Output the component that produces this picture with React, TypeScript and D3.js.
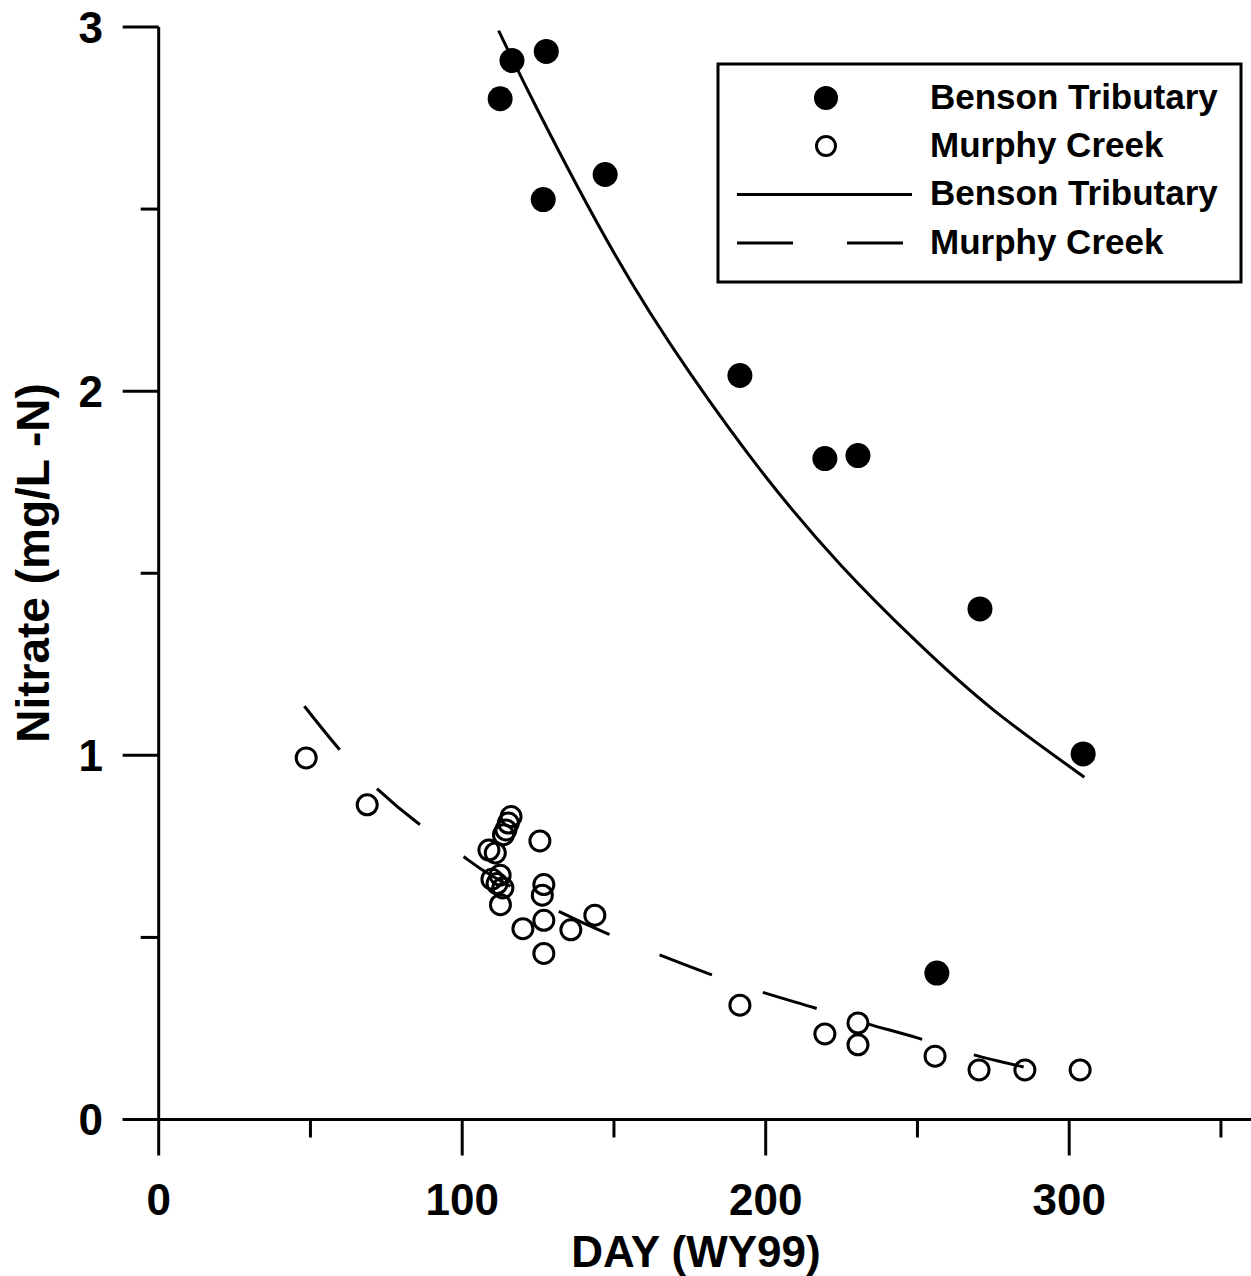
import React from "react";
import * as d3 from "d3";

// ---- data ----
const bensonDay = [112.5, 116.4, 127.7, 126.7, 147.1, 191.5, 219.5, 230.4, 270.6, 304.6, 256.4];
const bensonNitrate = [2.803, 2.908, 2.933, 2.526, 2.595, 2.043, 1.815, 1.823, 1.402, 1.004, 0.402];

const murphyDay = [48.6, 68.7, 116.1, 115.2, 114.4, 113.6, 108.8, 110.9, 112.5, 109.8, 111.5, 113.4, 112.6, 125.6, 126.9, 126.4, 126.9, 120.0, 135.8, 126.9, 143.7, 191.5, 219.5, 230.4, 230.4, 255.8, 270.3, 285.4, 303.6];
const murphyNitrate = [0.993, 0.864, 0.832, 0.814, 0.795, 0.782, 0.740, 0.732, 0.671, 0.660, 0.648, 0.636, 0.590, 0.765, 0.645, 0.616, 0.547, 0.524, 0.521, 0.456, 0.561, 0.314, 0.235, 0.265, 0.205, 0.174, 0.136, 0.136, 0.136];

const bensonFitDay = [112, 125, 150, 175, 200, 225, 250, 275, 305];
const bensonFitNitrate = [2.99, 2.77, 2.38, 2.05, 1.765, 1.52, 1.31, 1.125, 0.94];

const murphyFitDay = [48, 60, 72, 86, 100, 110, 131, 148, 165, 182, 198, 216, 233, 250, 267, 285];
const murphyFitNitrate = [1.135, 1.012, 0.908, 0.81, 0.725, 0.668, 0.575, 0.51, 0.452, 0.398, 0.352, 0.307, 0.264, 0.224, 0.181, 0.144];

const xMajorTicks = [0, 100, 200, 300];
const xMinorTicks = [50, 150, 250, 350];
const yMajorTicks = [0, 1, 2, 3];
const yMinorTicks = [0.5, 1.5, 2.5];

const legendLabels = ["Benson Tributary", "Murphy Creek", "Benson Tributary", "Murphy Creek"];

const W = 1251;
const H = 1276;
const FONT = "'Liberation Sans', Arial, Helvetica, sans-serif";

export default function App() {
  const x = d3.scaleLinear().domain([0, 360]).range([158.7, 1251.3]);
  const y = d3.scaleLinear().domain([0, 3]).range([1119.5, 27]);

  const line = d3
    .line<[number, number]>()
    .x((d) => x(d[0]))
    .y((d) => y(d[1]))
    .curve(d3.curveNatural);

  const bensonFit = bensonFitDay.map((d, i) => [d, bensonFitNitrate[i]] as [number, number]);
  const murphyFit = murphyFitDay.map((d, i) => [d, murphyFitNitrate[i]] as [number, number]);

  const sw = 3;
  const majorLen = 36;
  const minorLen = 18;
  const x0 = x(0);
  const y0 = y(0);

  const legX = 718, legY = 64, legW = 523, legH = 218;
  const rowY = [98, 146, 194.5, 243];

  return (
    <svg
      width={W}
      height={H}
      viewBox={`0 0 ${W} ${H}`}
      style={{ position: "absolute", left: 0, top: 0, background: "#fff" }}
      fontFamily={FONT}
    >
      <rect x={0} y={0} width={W} height={H} fill="#fff" />
      {/* axes */}
      <line x1={x0} x2={x0} y1={y(3)} y2={y0} stroke="#000" strokeWidth={sw} />
      <line x1={x0 - majorLen} x2={W} y1={y0} y2={y0} stroke="#000" strokeWidth={sw} />
      {yMajorTicks.map((t) => (
        <g key={"ym" + t}>
          <line x1={x0 - majorLen} x2={x0} y1={y(t)} y2={y(t)} stroke="#000" strokeWidth={sw} />
          <text x={103} y={y(t)} dy="0.36em" textAnchor="end" fontSize={44} fontWeight="bold">
            {t}
          </text>
        </g>
      ))}
      {yMinorTicks.map((t) => (
        <line key={"yn" + t} x1={x0 - minorLen} x2={x0} y1={y(t)} y2={y(t)} stroke="#000" strokeWidth={sw} />
      ))}
      {xMajorTicks.map((t) => (
        <g key={"xm" + t}>
          <line x1={x(t)} x2={x(t)} y1={y0} y2={y0 + majorLen} stroke="#000" strokeWidth={sw} />
          <text x={x(t)} y={1215} textAnchor="middle" fontSize={44} fontWeight="bold">
            {t}
          </text>
        </g>
      ))}
      {xMinorTicks.map((t) => (
        <line key={"xn" + t} x1={x(t)} x2={x(t)} y1={y0} y2={y0 + minorLen} stroke="#000" strokeWidth={sw} />
      ))}
      <text x={696} y={1267} textAnchor="middle" fontSize={44} fontWeight="bold">
        DAY (WY99)
      </text>
      <text
        transform={`translate(49, 563) rotate(-90)`}
        textAnchor="middle"
        fontSize={46}
        fontWeight="bold"
      >
        Nitrate (mg/L -N)
      </text>

      {/* fitted curves */}
      <path d={line(bensonFit) || ""} fill="none" stroke="#000" strokeWidth={sw} />
      <path d={line(murphyFit) || ""} fill="none" stroke="#000" strokeWidth={sw} strokeDasharray="56 54" />

      {/* points */}
      {murphyDay.map((d, i) => (
        <circle key={"m" + i} cx={x(d)} cy={y(murphyNitrate[i])} r={10} fill="none" stroke="#000" strokeWidth={sw} />
      ))}
      {bensonDay.map((d, i) => (
        <circle key={"b" + i} cx={x(d)} cy={y(bensonNitrate[i])} r={12.5} fill="#000" />
      ))}

      {/* legend */}
      <rect x={legX} y={legY} width={legW} height={legH} fill="#fff" stroke="#000" strokeWidth={sw} />
      <circle cx={826} cy={rowY[0]} r={12} fill="#000" />
      <circle cx={826} cy={rowY[1]} r={9.5} fill="#fff" stroke="#000" strokeWidth={sw} />
      <line x1={737} x2={912} y1={rowY[2]} y2={rowY[2]} stroke="#000" strokeWidth={sw} />
      <line x1={737} x2={912} y1={rowY[3]} y2={rowY[3]} stroke="#000" strokeWidth={sw} strokeDasharray="56 54" />
      {legendLabels.map((l, i) => (
        <text key={"l" + i} x={930} y={rowY[i] + 10.5} fontSize={35} fontWeight="bold">
          {l}
        </text>
      ))}
    </svg>
  );
}
